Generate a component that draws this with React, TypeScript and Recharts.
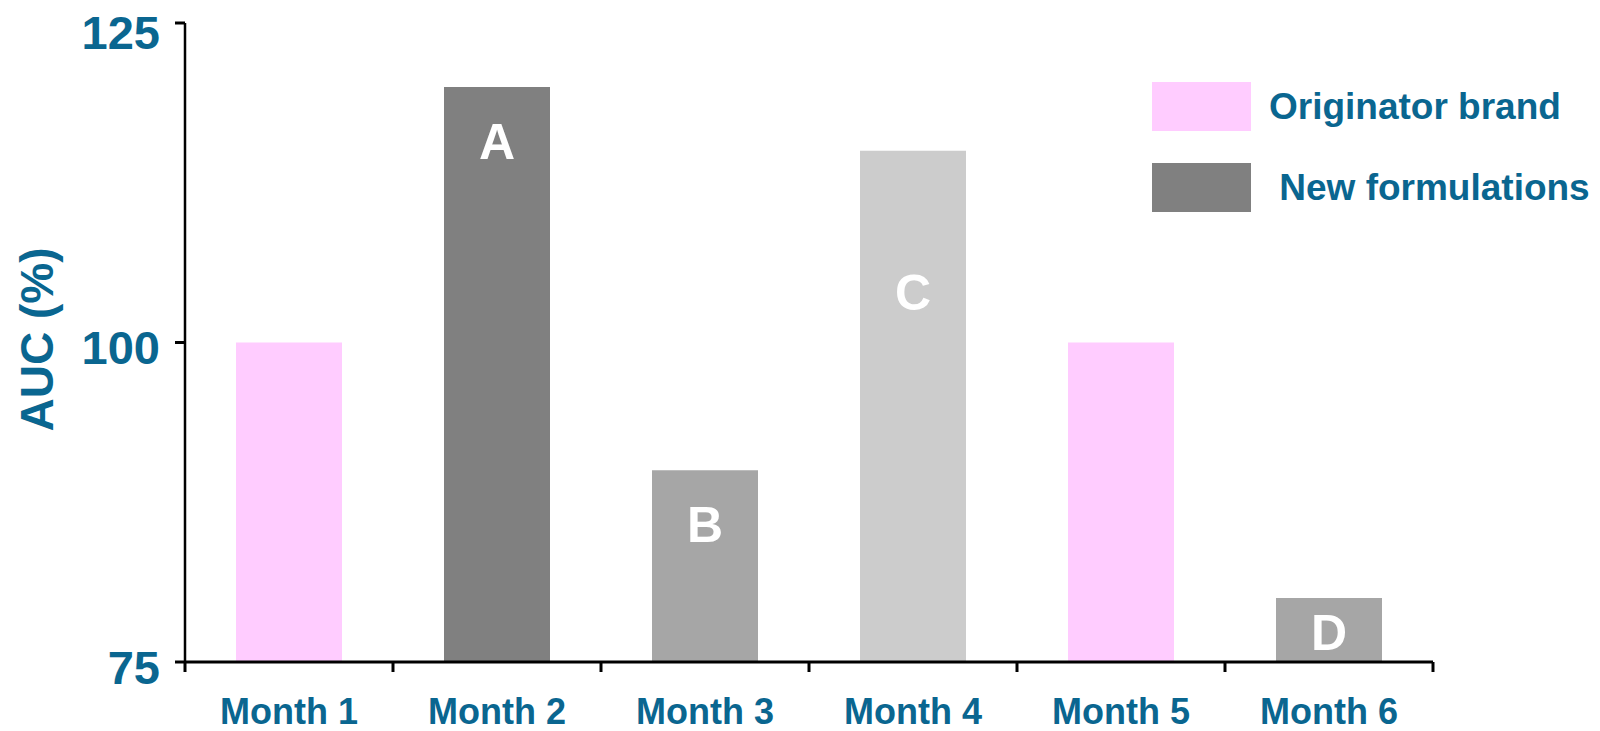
import React from 'react'
import { BarChart, Bar, XAxis, YAxis, Cell, LabelList } from 'recharts'

// chart values
const months = ['Month 1', 'Month 2', 'Month 3', 'Month 4', 'Month 5', 'Month 6']
const aucValues = [100, 120, 90, 115, 100, 80]
const barLetters = ['', 'A', 'B', 'C', '', 'D']
const yTicks = [75, 100, 125]
const legendNames = ['Originator brand', ' New formulations']

// styling
const barColors = ['#FFCCFF', '#808080', '#A6A6A6', '#CCCCCC', '#FFCCFF', '#A6A6A6']
const legendColors = ['#FFCCFF', '#808080']
const letterDrop = [0, 55, 54, 142, 0, 34]
const TEXT = '#0A6690'
const FONT = '"Liberation Sans", Arial, sans-serif'

const W = 1600
const H = 731
const MARGIN = { top: 23, right: 167, bottom: 0, left: 0 }
const Y_AXIS_W = 185
const X_TICK_MARGIN = 36
const BAND = (W - MARGIN.left - MARGIN.right - Y_AXIS_W) / months.length

const data = months.map((m, i) => ({ month: m, auc: aucValues[i], letter: barLetters[i] }))

const LetterLabel = (props: any) => {
  const { x, y, width, index, value } = props
  if (!value) return null
  return (
    <text
      x={x + width / 2}
      y={y + letterDrop[index]}
      dy="0.35em"
      textAnchor="middle"
      fill="#ffffff"
      fontFamily={FONT}
      fontWeight="bold"
      fontSize={50}
    >
      {value}
    </text>
  )
}

// month label plus tick marks on the category boundaries
const MonthTick = (props: any) => {
  const { x, y, payload, index } = props
  const axisY = y - X_TICK_MARGIN
  const left = x - BAND / 2
  const right = x + BAND / 2
  return (
    <g>
      <line x1={left} x2={left} y1={axisY} y2={axisY + 10} stroke="#000" strokeWidth={3} />
      {index === months.length - 1 && (
        <line x1={right} x2={right} y1={axisY} y2={axisY + 10} stroke="#000" strokeWidth={3} />
      )}
      <text
        x={x}
        y={y}
        dy="0.71em"
        textAnchor="middle"
        fill={TEXT}
        fontFamily={FONT}
        fontWeight="bold"
        fontSize={36}
      >
        {payload.value}
      </text>
    </g>
  )
}

const AxisTitle = (props: any) => {
  const { viewBox } = props
  const cx = viewBox.x + 37
  const cy = viewBox.y + viewBox.height / 2 - 3
  return (
    <text
      x={cx}
      y={cy}
      dy="0.35em"
      transform={`rotate(-90 ${cx} ${cy})`}
      textAnchor="middle"
      fill={TEXT}
      fontFamily={FONT}
      fontWeight="bold"
      fontSize={46}
    >
      AUC (%)
    </text>
  )
}

export default function App() {
  return (
    <div style={{ position: 'absolute', left: 0, top: 0, width: W, height: H, background: '#fff' }}>
      <BarChart width={W} height={H} data={data} margin={MARGIN}>
        <XAxis
          dataKey="month"
          height={69}
          axisLine={{ stroke: '#000', strokeWidth: 3 }}
          tickLine={false}
          tickSize={0}
          tickMargin={X_TICK_MARGIN}
          interval={0}
          tick={MonthTick}
        />
        <YAxis
          width={Y_AXIS_W}
          domain={[75, 125]}
          ticks={yTicks}
          allowDataOverflow
          tickSize={10}
          tickMargin={15}
          axisLine={{ stroke: '#000', strokeWidth: 2.5 }}
          tickLine={{ stroke: '#000', strokeWidth: 3 }}
          tick={{ fill: TEXT, fontFamily: FONT, fontWeight: 'bold', fontSize: 47, dy: 5 }}
          label={{ content: AxisTitle }}
        />
        <Bar dataKey="auc" barSize={106} isAnimationActive={false}>
          {data.map((_, i) => (
            <Cell key={i} fill={barColors[i]} />
          ))}
          <LabelList dataKey="letter" content={LetterLabel} />
        </Bar>
      </BarChart>

      {/* legend */}
      <div style={{ position: 'absolute', left: 1152, top: 82, fontFamily: FONT }}>
        {legendNames.map((name, i) => (
          <div key={i} style={{ display: 'flex', alignItems: 'center', height: 49, marginBottom: 32 }}>
            <div style={{ width: 99, height: 49, background: legendColors[i] }} />
            <span
              style={{
                marginLeft: 18,
                whiteSpace: 'pre',
                color: TEXT,
                fontWeight: 'bold',
                fontSize: 37,
              }}
            >
              {name}
            </span>
          </div>
        ))}
      </div>
    </div>
  )
}
